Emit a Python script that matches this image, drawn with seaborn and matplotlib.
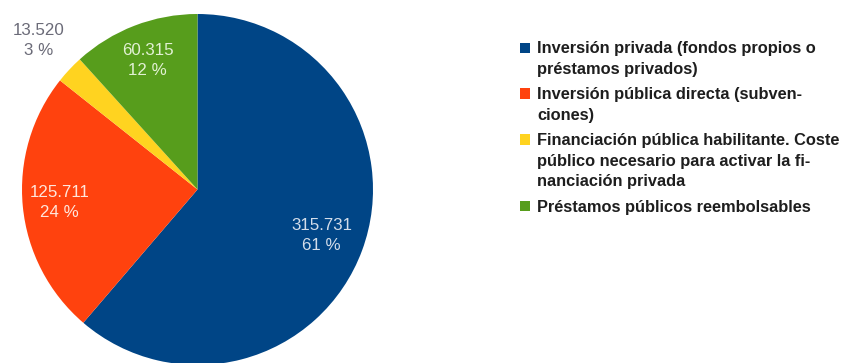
import matplotlib
matplotlib.use("Agg")
import matplotlib.pyplot as plt
from matplotlib.patches import Rectangle
import numpy as np
import seaborn as sns

# Financing sources (thousands of euros)
categories = [
    "Inversión privada (fondos propios o\npréstamos privados)",
    "Inversión pública directa (subven-\nciones)",
    "Financiación pública habilitante. Coste\npúblico necesario para activar la fi-\nnanciación privada",
    "Préstamos públicos reembolsables",
]
values = [315731, 125711, 13520, 60315]
colors = ["#004586", "#ff420e", "#ffd320", "#579d1c"]
label_colors = ["#d3ddea", "#ffe6dc", "#6b6b78", "#e2f1d4"]
label_radius = [0.755, 0.79, 1.24, 0.79]

sns.set_theme(style="white")
plt.rcParams["font.family"] = ["Liberation Sans", "DejaVu Sans"]

W, H = 843, 363
fig = plt.figure(figsize=(W / 100, H / 100), dpi=100)
fig.patch.set_facecolor("white")

# pie axes: centre (197.5, 189.5) px, radius 175.5 px
R = 175.5
cx, cy = 197.5, 189.5
ax = fig.add_axes([(cx - R) / W, (H - cy - R) / H, 2 * R / W, 2 * R / H])
palette = sns.color_palette(colors)
wedges, _ = ax.pie(values, colors=palette, startangle=90, counterclock=False,
                   wedgeprops=dict(linewidth=0, antialiased=True))
ax.set_xlim(-1, 1)
ax.set_ylim(-1, 1)
ax.set_aspect("equal")
ax.axis("off")

total = sum(values)
for w, v, col, r in zip(wedges, values, label_colors, label_radius):
    mid = np.deg2rad((w.theta1 + w.theta2) / 2)
    txt = f"{v:,}".replace(",", ".") + f"\n{round(v / total * 100)} %"
    ax.text(r * np.cos(mid), r * np.sin(mid), txt, ha="center", va="center",
            color=col, fontsize=12.2, linespacing=1.42)

# legend drawn line by line
base0 = 53.0
line_h = 20.7
entry_gap = 4.6
k = 0
for i, (lab, col) in enumerate(zip(categories, colors)):
    lines = lab.split("\n")
    first_base = base0 + line_h * k + entry_gap * i
    fig.patches.append(Rectangle((520 / W, (H - (first_base - 0.5)) / H), 10 / W, 10 / H,
                                 transform=fig.transFigure, facecolor=col,
                                 edgecolor="none"))
    for j, ln in enumerate(lines):
        b = first_base + line_h * j
        fig.text(537 / W, (H - b) / H, ln, ha="left", va="baseline",
                 fontsize=11.8, fontweight="bold", color="#1e1e1e")
    k += len(lines)

fig.savefig("out.png", dpi=100)
